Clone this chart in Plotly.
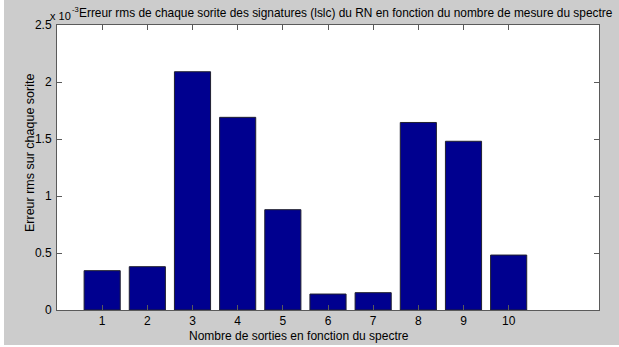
import plotly.graph_objects as go

# RMS error per network output (units of 1e-3)
outputs = [1, 2, 3, 4, 5, 6, 7, 8, 9, 10]
rms_error = [0.345, 0.38, 2.09, 1.69, 0.88, 0.14, 0.152, 1.645, 1.48, 0.482]
y_ticks = [0, 0.5, 1, 1.5, 2, 2.5]
y_tick_text = ["0", "0.5", "1", "1.5", "2", "2.5"]

W, H = 619, 347
L, R, T, B = 57, 20, 25, 37
plot_w = W - L - R
plot_h = H - T - B

FONT = "Liberation Sans, Arial, Helvetica, sans-serif"
TXT = "#000000"
GREY_BG = "#cccccc"

fig = go.Figure(
    go.Bar(
        x=outputs,
        y=rms_error,
        width=0.8,
        marker=dict(color="#00008f", line=dict(color="#202030", width=1)),
    )
)

axis_common = dict(
    showline=True,
    linecolor="#5a5a5a",
    linewidth=1,
    mirror="allticks",
    ticks="inside",
    ticklen=5,
    tickcolor="#5a5a5a",
    showgrid=False,
    zeroline=False,
    tickfont=dict(family=FONT, size=12, color=TXT),
)

fig.update_xaxes(range=[0, 12], tickvals=outputs, **axis_common)
fig.update_yaxes(range=[0, 2.5], tickvals=y_ticks, ticktext=y_tick_text,
                 ticklabelstandoff=2, **axis_common)

def px(xp):
    return (xp - L) / plot_w

def py(yp):
    return (H - B - yp) / plot_h

annotations = [
    dict(text="Erreur rms de chaque sorite des signatures (lslc) du RN en fonction du nombre de mesure du spectre",
         x=px(77), y=py(13), xanchor="left", yanchor="middle",
         font=dict(family=FONT, size=11.9, color=TXT)),
    # axis exponent: "x 10" with a raised "-3"
    dict(text="x 10", x=px(73), y=py(16), xanchor="right", yanchor="middle",
         font=dict(family=FONT, size=11, color=TXT)),
    dict(text="-3", x=px(69.5), y=py(9), xanchor="left", yanchor="middle",
         font=dict(family=FONT, size=7.5, color=TXT)),
    dict(text="Nombre de sorties en fonction du spectre", x=px(299), y=py(336),
         xanchor="center", yanchor="middle",
         font=dict(family=FONT, size=12, color=TXT)),
    dict(text="Erreur rms sur chaque sorite", x=px(30), y=py(153), textangle=-90,
         xanchor="center", yanchor="middle",
         font=dict(family=FONT, size=12.5, color=TXT)),
]
for a in annotations:
    a.update(xref="paper", yref="paper", showarrow=False)

# thin white margins along the left and bottom edges of the grey figure
edge = dict(type="rect", xref="paper", yref="paper", layer="below",
            fillcolor="white", line=dict(width=0))
fig.update_layout(
    width=W,
    height=H,
    margin=dict(l=L, r=R, t=T, b=B, pad=0),
    paper_bgcolor=GREY_BG,
    plot_bgcolor="white",
    showlegend=False,
    annotations=annotations,
    shapes=[
        dict(edge, x0=px(-2), x1=px(4), y0=py(H + 2), y1=py(-2)),
        dict(edge, x0=px(-2), x1=px(W + 2), y0=py(H + 2), y1=py(345)),
    ],
)

fig.write_html("out.html", config={"displayModeBar": False})
